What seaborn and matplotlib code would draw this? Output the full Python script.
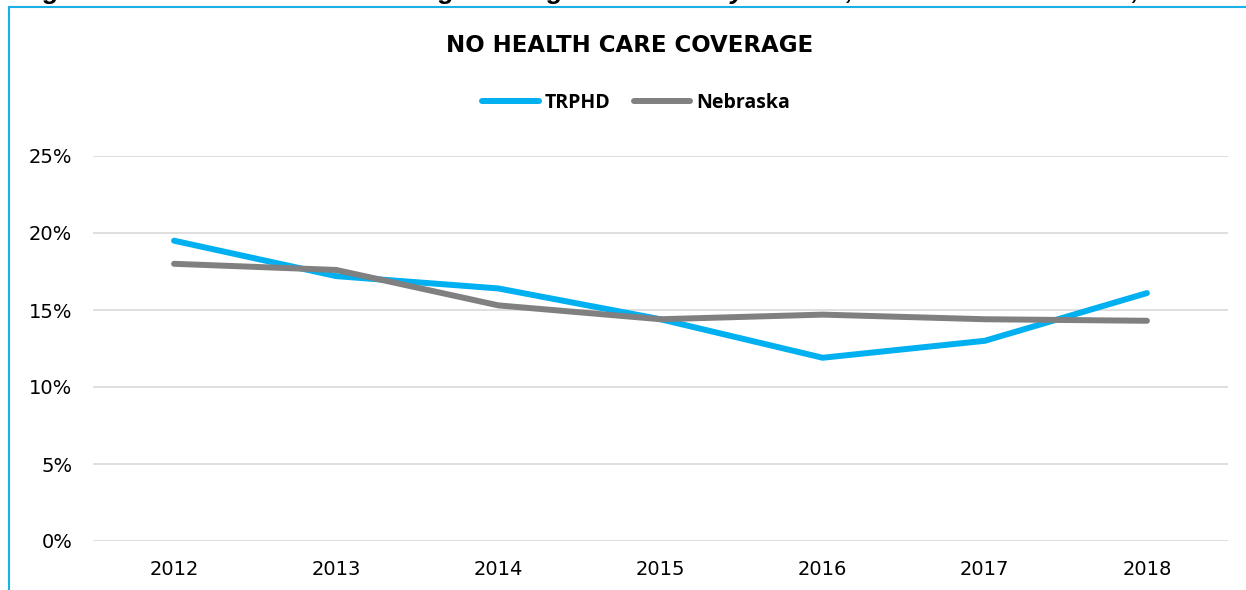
import pandas as pd
import seaborn as sns
import matplotlib.pyplot as plt
from matplotlib.patches import Rectangle
from matplotlib.ticker import FuncFormatter

# data
years = ["2012", "2013", "2014", "2015", "2016", "2017", "2018"]
trphd = [19.5, 17.2, 16.4, 14.4, 11.9, 13.0, 16.1]
nebraska = [18.0, 17.6, 15.3, 14.4, 14.7, 14.4, 14.3]
y_ticks = [0, 5, 10, 15, 20, 25]

df = pd.DataFrame({
    "year": years * 2,
    "value": trphd + nebraska,
    "area": ["TRPHD"] * len(years) + ["Nebraska"] * len(years),
})

sns.set_style("white")
plt.rcParams["font.family"] = ["DejaVu Sans"]
plt.rcParams["text.color"] = "black"

fig = plt.figure(figsize=(12.46, 5.90), dpi=100)
ax = fig.add_axes([93 / 1246, 49 / 590, 1135 / 1246, 385 / 590])

sns.lineplot(data=df, x="year", y="value", hue="area",
             palette={"TRPHD": "#00B0F0", "Nebraska": "#808080"},
             linewidth=4.3, sort=False, legend=False, ax=ax)
for ln in ax.lines:
    ln.set_solid_capstyle("round")
    ln.set_solid_joinstyle("round")

ax.set_xlim(-0.5, len(years) - 0.5)
ax.set_ylim(0, 25)
ax.set_yticks(y_ticks)
ax.yaxis.set_major_formatter(FuncFormatter(lambda v, p: f"{v:.0f}%"))
ax.grid(axis="y", color="#D9D9D9", linewidth=1.2)
ax.set_axisbelow(True)
for s in ax.spines.values():
    s.set_visible(False)
ax.tick_params(axis="both", length=0, labelsize=14, colors="black")
ax.tick_params(axis="y", pad=15)
ax.tick_params(axis="x", pad=14)
ax.set_xlabel("")
ax.set_ylabel("")

# title and legend
fig.text(630 / 1246, 1 - 45 / 590, "NO HEALTH CARE COVERAGE", ha="center", va="center",
         fontsize=16.5, fontweight="bold")
handles = [plt.Line2D([], [], color="#00B0F0", lw=4.3, solid_capstyle="round"),
           plt.Line2D([], [], color="#808080", lw=4.3, solid_capstyle="round")]
fig.legend(handles, ["TRPHD", "Nebraska"], loc="center", bbox_to_anchor=(636 / 1246, 1 - 103 / 590),
           ncol=2, frameon=False, handlelength=2.9, handletextpad=0.3, columnspacing=1.2,
           prop={"family": ["Open Sans", "DejaVu Sans"], "weight": "bold", "size": 14})

# blue chart border (mostly outside the crop)
fig.patches.append(Rectangle((9 / 1246, -0.1), 1.2, 1.1 - 7 / 590, transform=fig.transFigure,
                             fill=False, edgecolor="#1AAFE6", linewidth=1.5))

# caption above the chart, cut off by the image edge
fig.text(20 / 1246, 1 + 0.5 / 590,
         "Figure 14: No Health Care Coverage among adults 18-64 years old, TRPHD and Nebraska, 2018",
         ha="left", va="baseline", fontsize=19, fontweight="bold", style="italic",
         family=["Liberation Sans", "DejaVu Sans"])

fig.savefig("out.png", dpi=100)
